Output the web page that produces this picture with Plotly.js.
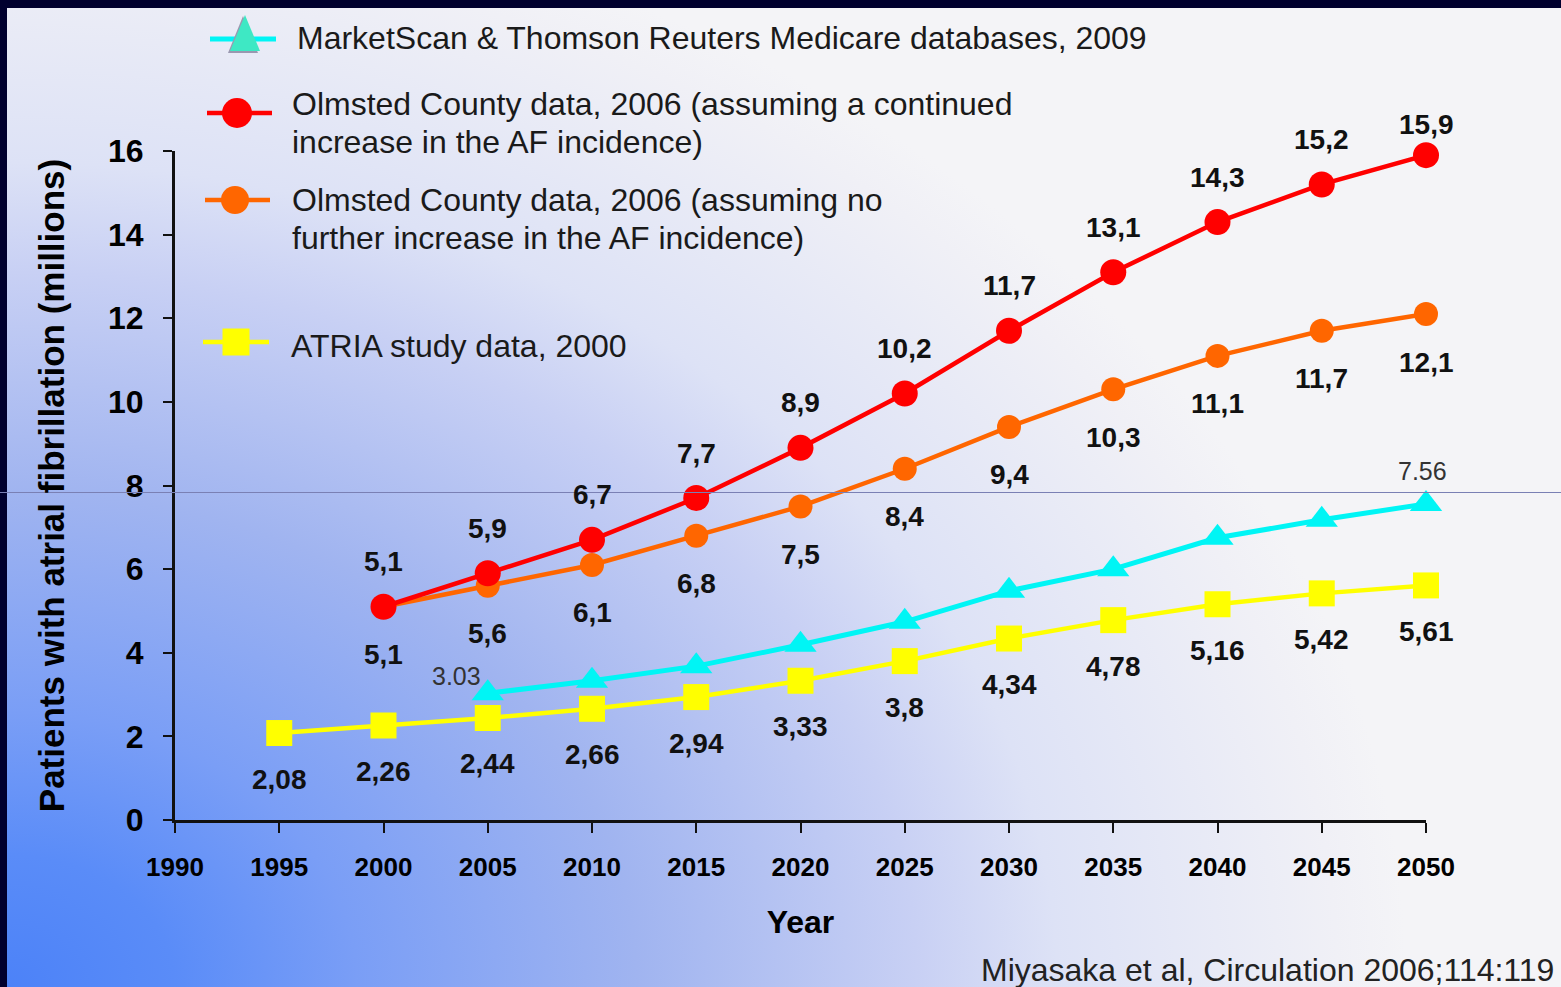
<!DOCTYPE html>
<html>
<head>
<meta charset="utf-8">
<script src="https://cdn.plot.ly/plotly-3.0.1.min.js"></script>
<style>
  html, body { margin:0; padding:0; width:1561px; height:987px; overflow:hidden; background:#00002e; }
  #bg { position:absolute; left:7px; top:8px; width:1554px; height:979px;
        background: radial-gradient(ellipse 1400px 1100px at 0% 100%,
          #4c82f8 0%, #5a8cf8 12%, #7a9ef6 25%, #a0b4f0 45%, #c8d0f4 65%, #dde2f6 75%, #f0f0f6 95%, #f4f4f7 100%); }
  #chart { position:absolute; left:0; top:0; width:1561px; height:987px; }
</style>
</head>
<body>
<div id="bg"></div>
<div id="chart"></div>
<script>
// ---------------- data ----------------
const yearsOlmsted = [2000, 2005, 2010, 2015, 2020, 2025, 2030, 2035, 2040, 2045, 2050];
const olmstedIncrease = [5.1, 5.9, 6.7, 7.7, 8.9, 10.2, 11.7, 13.1, 14.3, 15.2, 15.9];
const olmstedNoIncrease = [5.1, 5.6, 6.1, 6.8, 7.5, 8.4, 9.4, 10.3, 11.1, 11.7, 12.1];

const yearsAtria = [1995, 2000, 2005, 2010, 2015, 2020, 2025, 2030, 2035, 2040, 2045, 2050];
const atria = [2.08, 2.26, 2.44, 2.66, 2.94, 3.33, 3.8, 4.34, 4.78, 5.16, 5.42, 5.61];

const yearsMarket = [2005, 2010, 2015, 2020, 2025, 2030, 2035, 2040, 2045, 2050];
const marketScan = [3.03, 3.33, 3.68, 4.19, 4.74, 5.48, 6.0, 6.75, 7.18, 7.56];

const xTicks = [1990, 1995, 2000, 2005, 2010, 2015, 2020, 2025, 2030, 2035, 2040, 2045, 2050];
const yTicks = [0, 2, 4, 6, 8, 10, 12, 14, 16];

const seriesNames = [
  "MarketScan & Thomson Reuters Medicare databases, 2009",
  "Olmsted County data, 2006 (assuming a continued increase in the AF incidence)",
  "Olmsted County data, 2006 (assuming no further increase in the AF incidence)",
  "ATRIA study data, 2000"
];
const legendLines = [
  ["MarketScan & Thomson Reuters Medicare databases, 2009"],
  ["Olmsted County data, 2006 (assuming a continued", "increase in the AF incidence)"],
  ["Olmsted County data, 2006 (assuming no", "further increase in the AF incidence)"],
  ["ATRIA study data, 2000"]
];
const xTitle = "Year";
const yTitle = "Patients with atrial fibrillation (millions)";
const citation = "Miyasaka et al, Circulation 2006;114:119";

// ---------------- style ----------------
const COL = { red:"#ff0000", orange:"#ff6600", cyan:"#00f5f5", yellow:"#ffff00" };
const W = 1561, H = 987, ML = 175, MR = 135, MT = 151, MB = 167;
const PW = W - ML - MR, PH = H - MT - MB;
const px2x = p => (p - ML) / PW;
const py2y = p => (H - MB - p) / PH;
const SANS = "Liberation Sans, Arial, Helvetica, sans-serif";
const comma = v => String(v).replace(".", ",");

const traces = [
  { x: yearsOlmsted, y: olmstedNoIncrease, name: seriesNames[2], mode: "lines+markers", cliponaxis: false,
    line: { color: COL.orange, width: 4.5 }, marker: { symbol: "circle", size: 24, color: COL.orange } },
  { x: yearsOlmsted, y: olmstedIncrease, name: seriesNames[1], mode: "lines+markers", cliponaxis: false,
    line: { color: COL.red, width: 4.5 }, marker: { symbol: "circle", size: 26, color: COL.red } },
  { x: yearsMarket, y: marketScan, name: seriesNames[0], mode: "lines+markers", cliponaxis: false,
    line: { color: COL.cyan, width: 5 }, marker: { symbol: "triangle-up", size: 28, color: COL.cyan } },
  { x: yearsAtria, y: atria, name: seriesNames[3], mode: "lines+markers", cliponaxis: false,
    line: { color: COL.yellow, width: 4.5 }, marker: { symbol: "square", size: 26, color: COL.yellow } }
];

// ---------------- annotations ----------------
const annotations = [];
const labelFont = { family: SANS, size: 28, color: "#111", weight: 700 };
olmstedIncrease.forEach((v, i) => {
  const last = i === olmstedIncrease.length - 1;
  annotations.push({ x: yearsOlmsted[i], y: v, text: comma(v), showarrow: false,
    yshift: last ? 31 : 45, font: labelFont });
});
olmstedNoIncrease.forEach((v, i) => {
  annotations.push({ x: yearsOlmsted[i], y: v, text: comma(v), showarrow: false,
    yshift: -48, font: labelFont });
});
atria.forEach((v, i) => {
  annotations.push({ x: yearsAtria[i], y: v, text: comma(v), showarrow: false,
    yshift: -46, font: labelFont });
});
const mkFont = { family: SANS, size: 25, color: "#333" };
annotations.push({ x: yearsMarket[0], y: marketScan[0], text: String(marketScan[0]), showarrow: false,
  xshift: -31, yshift: 17, font: mkFont });
const mLast = marketScan.length - 1;
annotations.push({ x: yearsMarket[mLast], y: marketScan[mLast], text: String(marketScan[mLast]), showarrow: false,
  xshift: -4, yshift: 33, font: mkFont });

// legend text
const legFont = { family: SANS, size: 32, color: "#1a1a1a" };
const legTextPos = [ [295, [38]], [290, [104, 142]], [290, [200, 238]], [289, [346]] ];
legendLines.forEach((lines, k) => {
  lines.forEach((t, j) => {
    annotations.push({ xref: "paper", yref: "paper", x: px2x(legTextPos[k][0]), y: py2y(legTextPos[k][1][j]),
      xanchor: "left", yanchor: "middle", text: t, showarrow: false, font: legFont });
  });
});
// citation
annotations.push({ xref: "paper", yref: "paper", x: px2x(1556), y: py2y(970), xanchor: "right", yanchor: "middle",
  text: citation, showarrow: false, font: { family: SANS, size: 32, color: "#222" } });

// ---------------- legend glyph shapes ----------------
const shapes = [];
function lineSeg(x0, x1, y, color, width) {
  shapes.push({ type: "line", xref: "paper", yref: "paper", x0: px2x(x0), x1: px2x(x1), y0: py2y(y), y1: py2y(y),
    line: { color, width } });
}
function circ(cx, cy, r, color) {
  shapes.push({ type: "circle", xref: "paper", yref: "paper", x0: px2x(cx - r), x1: px2x(cx + r),
    y0: py2y(cy + r), y1: py2y(cy - r), fillcolor: color, line: { width: 0 } });
}
function rect(cx, cy, h, color) {
  shapes.push({ type: "rect", xref: "paper", yref: "paper", x0: px2x(cx - h), x1: px2x(cx + h),
    y0: py2y(cy + h), y1: py2y(cy - h), fillcolor: color, line: { width: 0 } });
}
function tri(cx, top, bottom, hw, color) {
  const p = `M${px2x(cx - hw)},${py2y(bottom)} L${px2x(cx + hw)},${py2y(bottom)} L${px2x(cx)},${py2y(top)} Z`;
  shapes.push({ type: "path", xref: "paper", yref: "paper", path: p, fillcolor: color, line: { width: 0 } });
}
// thin horizontal line across the image
shapes.push({ type: "line", xref: "paper", yref: "paper", x0: px2x(0), x1: px2x(W), y0: py2y(492.5), y1: py2y(492.5),
  line: { color: "#7a80b4", width: 1 }, layer: "above" });

lineSeg(210, 276, 39, COL.cyan, 5);
tri(243, 16, 53, 15, "#9a98b0");
tri(245, 15, 51, 15, "#3ee8c4");
lineSeg(207, 272, 113, COL.red, 4.5);
circ(237, 113, 15, COL.red);
lineSeg(205, 270, 200, COL.orange, 4.5);
circ(235, 200, 14, COL.orange);
lineSeg(203, 269, 342, COL.yellow, 4.5);
rect(236, 342, 13.5, COL.yellow);

const axisFontY = { family: SANS, size: 32, color: "#000", weight: 700 };
const axisFontX = { family: SANS, size: 26, color: "#000", weight: 700 };

const layout = {
  width: W, height: H,
  margin: { l: ML, r: MR, t: MT, b: MB, pad: 0 },
  paper_bgcolor: "rgba(0,0,0,0)",
  plot_bgcolor: "rgba(0,0,0,0)",
  showlegend: false,
  xaxis: {
    range: [1990, 2050], tickvals: xTicks, ticktext: xTicks.map(String),
    showgrid: false, zeroline: false, showline: true, linecolor: "#111", linewidth: 3,
    ticks: "outside", ticklen: 10, tickwidth: 2, tickcolor: "#111",
    tickfont: axisFontX, ticklabelstandoff: 12,
    title: { text: xTitle, font: { family: SANS, size: 32, color: "#000", weight: 700 }, standoff: 30 }
  },
  yaxis: {
    range: [0, 16], tickvals: yTicks, ticktext: yTicks.map(String),
    showgrid: false, zeroline: false, showline: true, linecolor: "#111", linewidth: 3,
    ticks: "outside", ticklen: 9, tickwidth: 2, tickcolor: "#111",
    tickfont: axisFontY, ticklabelstandoff: 13,
    title: { text: yTitle, font: { family: SANS, size: 35, color: "#000", weight: 700 }, standoff: 33 }
  },
  annotations, shapes
};

Plotly.newPlot("chart", traces, layout, { displayModeBar: false, staticPlot: true });
</script>
</body>
</html>
